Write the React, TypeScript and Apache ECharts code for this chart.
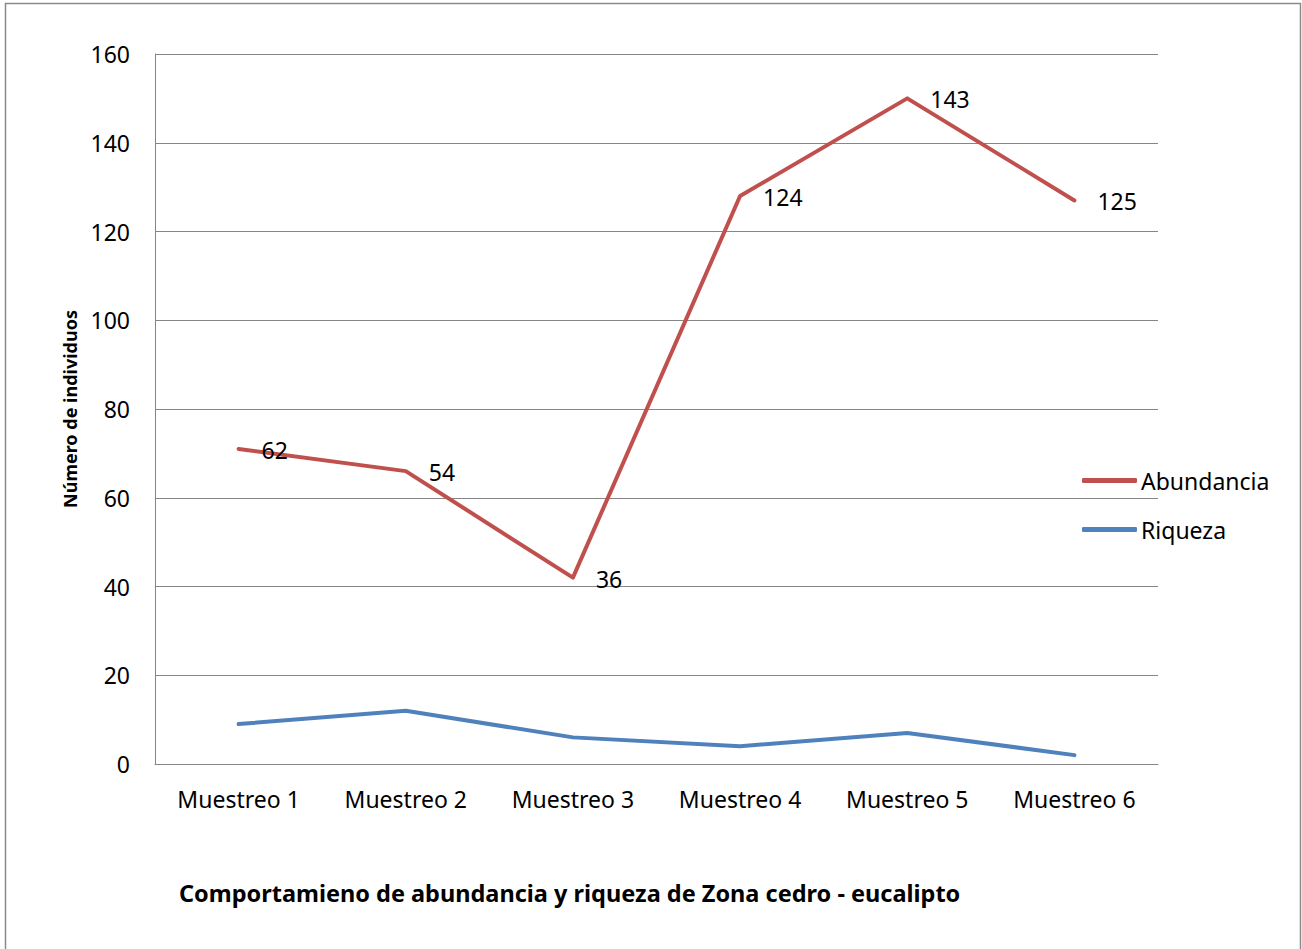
import React, { useEffect, useRef } from "react";
import * as echarts from "echarts";

const categories = ["Muestreo 1", "Muestreo 2", "Muestreo 3", "Muestreo 4", "Muestreo 5", "Muestreo 6"];
const abundancia = [71, 66, 42, 128, 150, 127];
const abundanciaLabels = ["62", "54", "36", "124", "143", "125"];
const riqueza = [9, 12, 6, 4, 7, 2];
const yTicks = { min: 0, max: 160, interval: 20 };

const FONT = "'Noto Sans', sans-serif";

export default function App() {
  const ref = useRef<HTMLDivElement>(null);
  useEffect(() => {
    const chart = echarts.init(ref.current!, null, { renderer: "svg" });
    chart.setOption({
      animation: false,
      backgroundColor: "#ffffff",
      textStyle: { fontFamily: FONT },
      title: {
        text: "Comportamieno de abundancia y riqueza de Zona cedro - eucalipto",
        left: 174,
        top: 876,
        textStyle: { fontFamily: FONT, fontSize: 23.5, fontWeight: "bold", color: "#000" },
      },
      graphic: [
        {
          type: "rect",
          shape: { x: 5.5, y: 3.5, width: 1295, height: 960 },
          style: { fill: "none", stroke: "#8a8a8a", lineWidth: 1.5 },
          silent: true,
        },
      ],
      legend: {
        orient: "vertical",
        left: 1082,
        top: 469,
        padding: 0,
        itemWidth: 55,
        itemHeight: 5,
        itemGap: 26,
        icon: "roundRect",
        textStyle: { fontFamily: FONT, fontSize: 23, color: "#000", padding: [0, 0, 0, -1] },
        data: ["Abundancia", "Riqueza"],
      },
      grid: { left: 155, right: 144, top: 54, bottom: 185, containLabel: false },
      xAxis: {
        type: "category",
        data: categories,
        boundaryGap: true,
        axisLine: { lineStyle: { color: "#868686", width: 1 } },
        axisTick: { show: false },
        axisLabel: { color: "#000", fontFamily: FONT, fontSize: 23, margin: 23 },
      },
      yAxis: {
        type: "value",
        min: yTicks.min,
        max: yTicks.max,
        interval: yTicks.interval,
        name: "Número de individuos",
        nameLocation: "middle",
        nameGap: 76,
        nameTextStyle: { fontFamily: FONT, fontSize: 18, fontWeight: "bold", color: "#000" },
        axisLine: { show: true, lineStyle: { color: "#868686", width: 1 } },
        axisTick: { show: false },
        splitLine: { lineStyle: { color: "#868686", width: 1 } },
        axisLabel: { color: "#000", fontFamily: FONT, fontSize: 23, margin: 25 },
      },
      series: [
        {
          name: "Abundancia",
          type: "line",
          data: abundancia,
          symbol: "circle",
          symbolSize: 0.01,
          showSymbol: true,
          color: "#C0504D",
          lineStyle: { width: 4, color: "#C0504D", cap: "round", join: "round" },
          label: {
            show: true,
            position: "right",
            distance: 23,
            offset: [0, 1],
            fontFamily: FONT,
            fontSize: 23,
            color: "#000",
            formatter: (p: any) => abundanciaLabels[p.dataIndex],
          },
        },
        {
          name: "Riqueza",
          type: "line",
          data: riqueza,
          symbol: "none",
          color: "#4F81BD",
          lineStyle: { width: 4, color: "#4F81BD", cap: "round", join: "round" },
        },
      ],
    });
    return () => chart.dispose();
  }, []);
  return (
    <div
      ref={ref}
      style={{ position: "fixed", left: 0, top: 0, width: 1302, height: 949 }}
    />
  );
}
